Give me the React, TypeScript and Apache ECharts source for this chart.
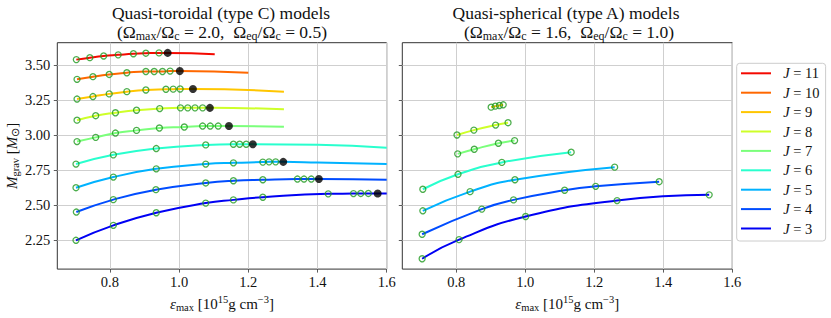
import React, { useEffect, useRef } from 'react';
import * as echarts from 'echarts';

const FONT = 'Liberation Serif';

// Legend / series labels (J values) and jet colours
const J_VALUES = ['11', '10', '9', '8', '7', '6', '5', '4', '3'];
const J_COLORS = ['#f40900', '#ff6800', '#ffc600', '#ceff29', '#7bff7b', '#29ffce', '#00b2ff', '#004cff', '#0000f4'];

// Tick labels
const X_TICKS = [0.8, 1.0, 1.2, 1.4, 1.6];
const Y_TICKS = [2.25, 2.5, 2.75, 3.0, 3.25, 3.5];

// ---------- Quasi-toroidal (type C) models: computed models [eps_max, M_grav]
const torJ11 = [[0.703, 3.542], [0.742, 3.556], [0.782, 3.568], [0.824, 3.576], [0.868, 3.584], [0.904, 3.588], [0.942, 3.590]];
const torJ10 = [[0.705, 3.401], [0.751, 3.420], [0.798, 3.436], [0.849, 3.448], [0.904, 3.457], [0.928, 3.457], [0.952, 3.457], [0.974, 3.460]];
const torJ9 = [[0.705, 3.260], [0.751, 3.278], [0.798, 3.297], [0.849, 3.313], [0.904, 3.325], [0.962, 3.330], [0.983, 3.331], [1.003, 3.332]];
const torJ8 = [[0.705, 3.109], [0.759, 3.141], [0.816, 3.162], [0.877, 3.180], [0.944, 3.192], [1.004, 3.197], [1.025, 3.197], [1.046, 3.197], [1.068, 3.197]];
const torJ7 = [[0.705, 2.956], [0.759, 2.986], [0.816, 3.017], [0.877, 3.036], [0.943, 3.053], [1.015, 3.060], [1.068, 3.067], [1.090, 3.067], [1.113, 3.067]];
const torJ6 = [[0.702, 2.795], [0.810, 2.861], [0.934, 2.906], [1.077, 2.932], [1.157, 2.937], [1.175, 2.937], [1.194, 2.937]];
const torJ5 = [[0.702, 2.626], [0.810, 2.702], [0.934, 2.761], [1.077, 2.795], [1.157, 2.804], [1.242, 2.809], [1.260, 2.811], [1.279, 2.811]];
const torJ4 = [[0.703, 2.452], [0.810, 2.541], [0.933, 2.612], [1.077, 2.660], [1.157, 2.676], [1.242, 2.683], [1.342, 2.688], [1.361, 2.688], [1.382, 2.688]];
const torJ3 = [[0.702, 2.250], [0.810, 2.357], [0.934, 2.447], [1.077, 2.516], [1.157, 2.539], [1.242, 2.558], [1.431, 2.582], [1.504, 2.584], [1.525, 2.585], [1.547, 2.585]];

// Last (limiting) models, drawn as black dots, for J = 11 ... 3
const torLimit = [[0.967, 3.590], [1.002, 3.460], [1.040, 3.332], [1.089, 3.197], [1.144, 3.067], [1.213, 2.937], [1.301, 2.811], [1.404, 2.688], [1.574, 2.585]];

// Fitted-curve extensions beyond the last model
const torExt11 = [[1.103, 3.581]];
const torExt10 = [[1.2, 3.448]];
const torExt9 = [[1.303, 3.313]];
const torExt8 = [[1.303, 3.187]];
const torExt7 = [[1.303, 3.062]];
const torExt6 = [[1.4, 2.934], [1.6, 2.912]];
const torExt5 = [[1.4, 2.806], [1.6, 2.795]];
const torExt4 = [[1.6, 2.683]];
const torExt3 = [[1.6, 2.585]];

// ---------- Quasi-spherical (type A) models
const sphJ9 = [[0.901, 3.202], [0.913, 3.209], [0.925, 3.214], [0.936, 3.219]];
const sphJ8 = [[0.802, 3.003], [0.851, 3.038], [0.914, 3.074], [0.950, 3.091]];
const sphJ7 = [[0.804, 2.868], [0.852, 2.901], [0.922, 2.944], [0.969, 2.963]];
const sphJ6 = [[0.703, 2.615], [0.805, 2.722], [0.932, 2.807], [1.133, 2.880]];
const sphJ5 = [[0.703, 2.461], [0.840, 2.598], [0.970, 2.683], [1.259, 2.773]];
const sphJ4 = [[0.701, 2.293], [0.874, 2.473], [0.966, 2.539], [1.114, 2.608], [1.204, 2.636], [1.388, 2.669]];
const sphJ3 = [[0.701, 2.118], [0.808, 2.255], [1.001, 2.420], [1.266, 2.534], [1.533, 2.575]];

const TOR_MODELS = [torJ11, torJ10, torJ9, torJ8, torJ7, torJ6, torJ5, torJ4, torJ3];
const TOR_EXT = [torExt11, torExt10, torExt9, torExt8, torExt7, torExt6, torExt5, torExt4, torExt3];
const SPH_MODELS: (number[][] | null)[] = [null, null, sphJ9, sphJ8, sphJ7, sphJ6, sphJ5, sphJ4, sphJ3];

const MARKER_GREEN = '#1f9a1f';
const TEXT_COLOR = '#111';
const FRAME = '#333';
const GRIDLINE = '#cfcfcf';

const richText = {
  n: { fontFamily: FONT, fontSize: 15, lineHeight: 19, color: TEXT_COLOR },
  i: { fontFamily: FONT, fontSize: 15, lineHeight: 19, fontStyle: 'italic', color: TEXT_COLOR },
  sub: { fontFamily: FONT, fontSize: 10.5, lineHeight: 10, verticalAlign: 'bottom', color: TEXT_COLOR },
  sup: { fontFamily: FONT, fontSize: 10.5, lineHeight: 10, verticalAlign: 'top', color: TEXT_COLOR },
};

const titleRich = {
  t: { fontFamily: FONT, fontSize: 17.5, lineHeight: 20, color: TEXT_COLOR, fontWeight: 'normal' },
  s: { fontFamily: FONT, fontSize: 12, lineHeight: 11, verticalAlign: 'bottom', color: TEXT_COLOR, fontWeight: 'normal' },
};

function makeXAxis(gridIndex: number, min: number) {
  return {
    type: 'value',
    gridIndex,
    min,
    max: 1.6,
    axisLine: { show: false },
    axisTick: { show: true, inside: false, length: 3.5, customValues: X_TICKS, lineStyle: { color: FRAME, width: 0.8 } },
    axisLabel: {
      customValues: X_TICKS,
      formatter: (v: number) => v.toFixed(1),
      margin: 5,
      fontFamily: FONT,
      fontSize: 14.5,
      color: TEXT_COLOR,
      showMinLabel: true,
      showMaxLabel: true,
    },
    splitLine: { show: true, lineStyle: { color: GRIDLINE, width: 1 } },
    name: '{i|ε}{sub|max}{n| [10}{sup|15}{n|g cm}{sup|−3}{n|]}',
    nameLocation: 'middle',
    nameGap: 23,
    nameTextStyle: { rich: richText },
  };
}

function makeYAxis(gridIndex: number, labels: boolean) {
  return {
    type: 'value',
    gridIndex,
    min: 2.044,
    max: 3.663,
    axisLine: { show: false },
    axisTick: { show: true, inside: false, length: 3.5, customValues: Y_TICKS, lineStyle: { color: FRAME, width: 0.8 } },
    axisLabel: {
      show: labels,
      customValues: Y_TICKS,
      formatter: (v: number) => v.toFixed(2),
      margin: 7,
      fontFamily: FONT,
      fontSize: 14.5,
      color: TEXT_COLOR,
    },
    splitLine: { show: true, lineStyle: { color: GRIDLINE, width: 1 } },
    name: labels ? '{i|M}{sub|grav}{n| [}{i|M}{sub|⊙}{n|]}' : '',
    nameLocation: 'middle',
    nameGap: 36,
    nameTextStyle: { rich: richText },
  };
}

function buildOption() {
  const series: any[] = [];
  J_VALUES.forEach((j, k) => {
    const name = 'J' + j;
    const color = J_COLORS[k];
    const models = TOR_MODELS[k];
    const curve = models.concat([torLimit[k]], TOR_EXT[k]);
    series.push({
      type: 'line',
      name,
      xAxisIndex: 0,
      yAxisIndex: 0,
      data: curve,
      smooth: 0.5,
      showSymbol: false,
      lineStyle: { color, width: 2 },
      itemStyle: { color },
      z: 2,
    });
    series.push({
      type: 'scatter',
      name: 'tor-models-' + j,
      xAxisIndex: 0,
      yAxisIndex: 0,
      data: models,
      symbol: 'circle',
      symbolSize: 6,
      itemStyle: { color: 'rgba(0,0,0,0)', borderColor: MARKER_GREEN, borderWidth: 1.3 },
      z: 3,
    });
    const sph = SPH_MODELS[k];
    if (sph) {
      series.push({
        type: 'line',
        name,
        xAxisIndex: 1,
        yAxisIndex: 1,
        data: sph,
        smooth: 0.5,
        showSymbol: false,
        lineStyle: { color, width: 2 },
        itemStyle: { color },
        z: 2,
      });
      series.push({
        type: 'scatter',
        name: 'sph-models-' + j,
        xAxisIndex: 1,
        yAxisIndex: 1,
        data: sph,
        symbol: 'circle',
        symbolSize: 6,
        itemStyle: { color: 'rgba(0,0,0,0)', borderColor: MARKER_GREEN, borderWidth: 1.3 },
        z: 3,
      });
    }
  });
  series.push({
    type: 'scatter',
    name: 'limit',
    xAxisIndex: 0,
    yAxisIndex: 0,
    data: torLimit,
    symbol: 'circle',
    symbolSize: 8,
    itemStyle: { color: '#000' },
    z: 4,
  });

  return {
    animation: false,
    backgroundColor: '#fff',
    title: [
      { text: 'Quasi-toroidal (type C) models', left: 221, top: 4, textAlign: 'center', padding: 0, textStyle: { fontFamily: FONT, fontSize: 17.5, fontWeight: 'normal', color: TEXT_COLOR } },
      { text: '{t|(Ω}{s|max}{t|/Ω}{s|c}{t| = 2.0,  Ω}{s|eq}{t|/Ω}{s|c}{t| = 0.5)}', left: 222, top: 22, textAlign: 'center', padding: 0, textStyle: { rich: titleRich } },
      { text: 'Quasi-spherical (type A) models', left: 566, top: 4, textAlign: 'center', padding: 0, textStyle: { fontFamily: FONT, fontSize: 17.5, fontWeight: 'normal', color: TEXT_COLOR } },
      { text: '{t|(Ω}{s|max}{t|/Ω}{s|c}{t| = 1.6,  Ω}{s|eq}{t|/Ω}{s|c}{t| = 1.0)}', left: 569, top: 22, textAlign: 'center', padding: 0, textStyle: { rich: titleRich } },
    ],
    grid: [
      { left: 57.3, top: 42.7, width: 329.4, height: 228, show: true, borderColor: FRAME, borderWidth: 1, backgroundColor: 'transparent', containLabel: false },
      { left: 402.3, top: 42.7, width: 330, height: 228, show: true, borderColor: FRAME, borderWidth: 1, backgroundColor: 'transparent', containLabel: false },
    ],
    xAxis: [makeXAxis(0, 0.648), makeXAxis(1, 0.6435)],
    yAxis: [makeYAxis(0, true), makeYAxis(1, false)],
    legend: {
      data: J_VALUES.map((j) => 'J' + j),
      orient: 'vertical',
      left: 736.7,
      top: 63.3,
      icon: 'rect',
      itemWidth: 30,
      itemHeight: 2,
      itemGap: 4.4,
      padding: [2.5, 6, 5, 4.3],
      backgroundColor: '#fff',
      borderColor: '#ccc',
      borderWidth: 1,
      borderRadius: 3,
      selectedMode: false,
      formatter: (name: string) => '{n|  }{i|J}{n| = ' + name.slice(1) + '}',
      textStyle: {
        rich: {
          n: { fontFamily: FONT, fontSize: 14.5, lineHeight: 16, color: TEXT_COLOR },
          i: { fontFamily: FONT, fontSize: 14.5, lineHeight: 16, fontStyle: 'italic', color: TEXT_COLOR },
        },
      },
    },
    series,
  };
}

export default function App() {
  const ref = useRef<HTMLDivElement>(null);
  useEffect(() => {
    document.body.style.margin = '0';
    const chart = echarts.init(ref.current!, null, { renderer: 'svg' });
    chart.setOption(buildOption() as any);
    return () => chart.dispose();
  }, []);
  return <div ref={ref} style={{ width: 831, height: 318 }} />;
}
